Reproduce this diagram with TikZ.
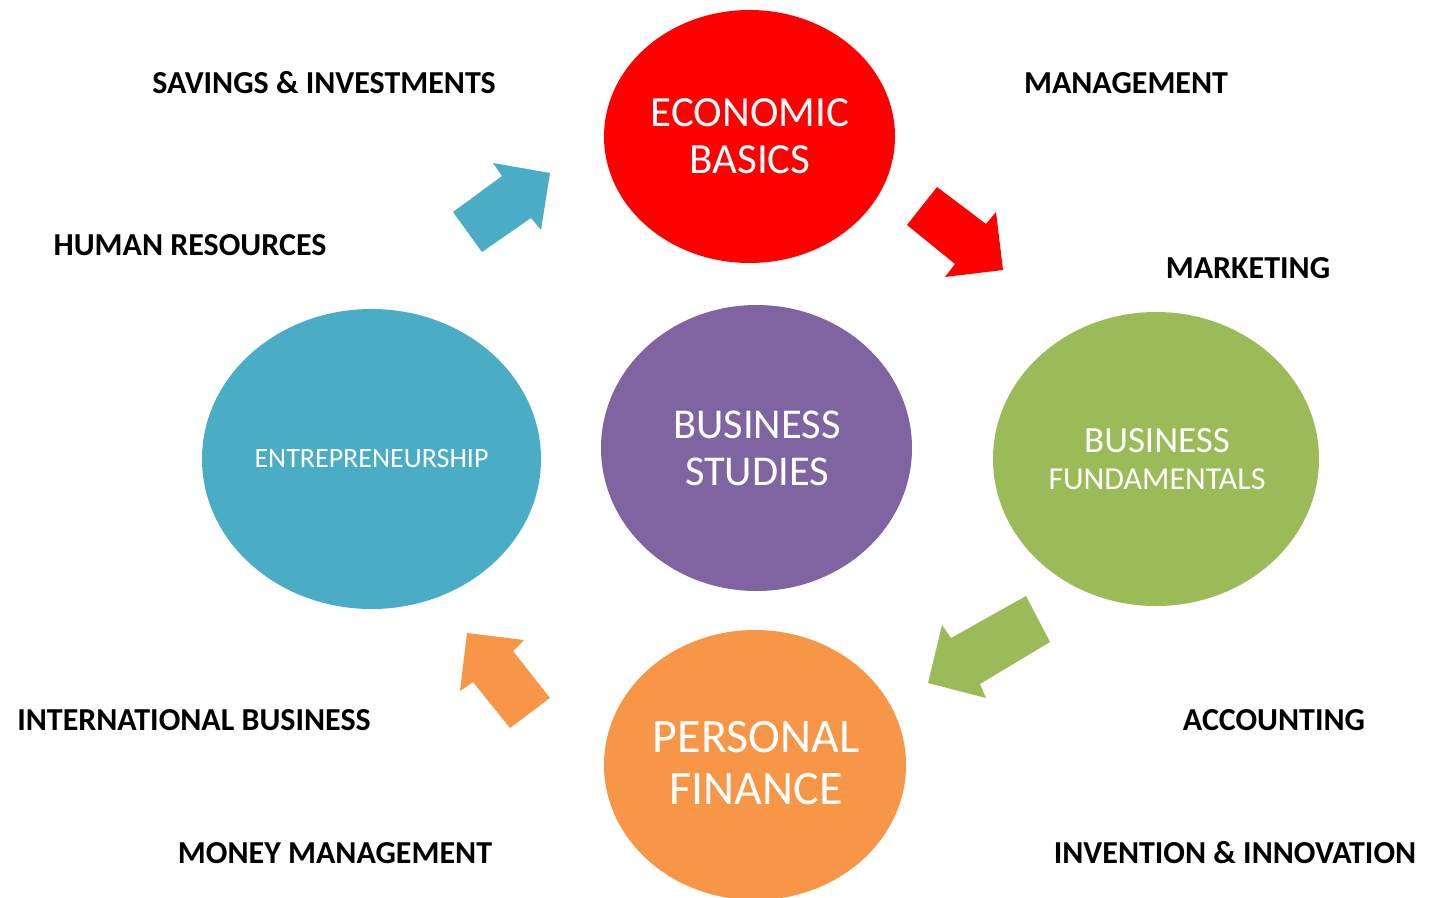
\documentclass[tikz,border=0pt]{standalone}
\usepackage{fontspec}
\setmainfont{Carlito}
\definecolor{cred}{HTML}{FF0000}
\definecolor{cpurple}{HTML}{8064A2}
\definecolor{cblue}{HTML}{4BACC6}
\definecolor{cgreen}{HTML}{9BBB59}
\definecolor{corange}{HTML}{F79646}
\tikzset{
  intext/.style={inner sep=0pt, text=white, align=center},
  lbl/.style={font=\fontsize{32}{38}\selectfont\bfseries, inner sep=0pt, anchor=center},
}
\usetikzlibrary{shapes.geometric}
\begin{document}
\begin{tikzpicture}[x=1pt,y=-1pt]
\useasboundingbox (0,0) rectangle (1434,897);
% ellipses
\fill[cred] (749.5,136.5) ellipse [x radius=145.5, y radius=126.5];
\node[intext, font=\fontsize{43}{47}\selectfont] (eco) at (750,136) {ECONOMIC\\BASICS};
\fill[cpurple] (756.5,448) ellipse [x radius=155.5, y radius=143];
\node[intext, font=\fontsize{42.5}{47}\selectfont] (bs) at (757,448) {BUSINESS\\STUDIES};
\fill[cblue] (371.5,459) ellipse [x radius=169.5, y radius=150];
\node[intext, font=\fontsize{28}{32}\selectfont] (ent) at (371.5,459) {ENTREPRENEURSHIP};
\fill[cgreen] (1156,459) ellipse [x radius=163, y radius=147];
\node[intext, font=\fontsize{37}{40}\selectfont] (bf1) at (1157,441) {BUSINESS};
\node[intext, font=\fontsize{32}{36}\selectfont] (bf2) at (1157,479) {FUNDAMENTALS};
\fill[corange] (755,765) ellipse [x radius=151, y radius=135];
\node[intext, font=\fontsize{48}{52}\selectfont] (pf) at (756,763) {PERSONAL\\FINANCE};
% arrows
\fill[cblue] (453,212) -- (482,252) -- (531,218) -- (541,230) -- (550,173) -- (493,163) -- (502,176) -- cycle;
\fill[cred] (937,187) -- (907,225) -- (955,264) -- (945,277) -- (1003,270) -- (996,212) -- (986,224) -- cycle;
\fill[cgreen] (1026,596) -- (1050,642) -- (980,684) -- (986,698) -- (928,683) -- (942,625) -- (951,638) -- cycle;
\fill[corange] (550,698) -- (510,728) -- (473,682) -- (460,691) -- (467,633) -- (524,640) -- (513,651) -- cycle;
% labels
\node[lbl] (l1) at (324,83) {SAVINGS \& INVESTMENTS};
\node[lbl] (l2) at (1126,83) {MANAGEMENT};
\node[lbl] (l3) at (190,245) {HUMAN RESOURCES};
\node[lbl] (l4) at (1248,268) {MARKETING};
\node[lbl] (l5) at (194,720) {INTERNATIONAL BUSINESS};
\node[lbl] (l6) at (1274,720) {ACCOUNTING};
\node[lbl] (l7) at (335,853) {MONEY MANAGEMENT};
\node[lbl] (l8) at (1235,853) {INVENTION \& INNOVATION};
\end{tikzpicture}
\end{document}
